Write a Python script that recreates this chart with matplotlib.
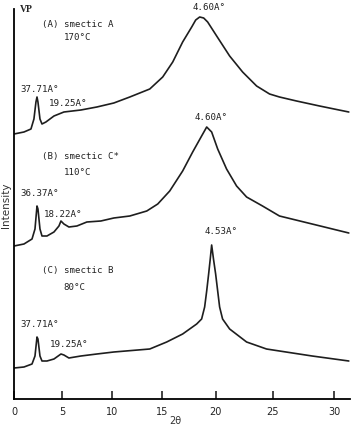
import numpy as np
import matplotlib
matplotlib.use('Agg')
import matplotlib.pyplot as plt

# 2theta (deg) and intensity (arbitrary units)
tt_a = [0.0, 1.04, 1.77, 2.08, 2.29, 2.4, 2.5, 2.71, 2.92, 3.33, 4.17, 5.2, 6.9, 8.5, 10.2,
        11.8, 13.8, 15.09, 16.02, 16.94, 17.78, 18.15, 18.52, 18.89, 19.26, 20.09, 21.23,
        22.37, 23.6, 24.74, 25.56, 26.94, 28.8, 31.2]
int_a = [265, 267, 270, 280, 297, 302, 297, 280, 275, 277, 283, 287, 289, 292, 296,
         302, 310, 322, 337, 357, 372, 379, 382, 381, 377, 363, 343,
         327, 313, 305, 302, 298, 293, 287]

tt_b = [0.0, 1.04, 1.88, 2.19, 2.4, 2.5, 2.71, 2.92, 3.44, 4.17, 4.69, 4.9, 5.2, 5.7, 6.5,
        7.5, 8.9, 10.2, 11.8, 13.5, 14.6, 15.74, 16.94, 17.87, 18.7, 19.17, 19.63, 20.18,
        20.96, 21.84, 22.72, 24.12, 25.56, 28.2, 31.2]
int_b = [153, 155, 160, 170, 193, 190, 170, 163, 163, 167, 173, 178, 175, 172, 173,
         177, 178, 181, 183, 188, 195, 208, 228, 247, 263, 272, 267, 250,
         230, 213, 202, 193, 183, 175, 166]

tt_c = [0.0, 1.04, 1.88, 2.19, 2.4, 2.5, 2.71, 2.92, 3.44, 4.17, 4.9, 5.2, 5.7, 6.9, 8.5,
        10.2, 13.8, 15.46, 16.94, 18.24, 18.7, 18.98, 19.17, 19.35, 19.5, 19.63, 19.8,
        20.0, 20.18, 20.35, 20.61, 21.23, 22.72, 24.47, 25.56, 28.2, 31.2]
int_c = [31, 32, 35, 43, 62, 60, 43, 38, 38, 40, 45, 44, 41, 43, 45,
         47, 50, 57, 65, 75, 80, 92, 108, 125, 140, 154, 140,
         125, 108, 92, 80, 70, 57, 50, 48, 43, 38]

# labels: (text, 2theta, intensity)
labels = [
    ("(A) smectic A", 2.92, 376), ("170°C", 5.2, 362),
    ("37.71A°", 0.63, 310), ("19.25A°", 3.65, 297), ("4.60A°", 17.87, 393),
    ("(B) smectic C*", 2.92, 243), ("110°C", 5.2, 227),
    ("36.37A°", 0.63, 206), ("18.22A°", 3.13, 185), ("4.60A°", 18.06, 282),
    ("(C) smectic B", 2.92, 130), ("80°C", 5.1, 113),
    ("37.71A°", 0.63, 75), ("19.25A°", 3.75, 55), ("4.53A°", 18.98, 168),
]

xticks = [0, 5, 10, 15, 20, 25, 30]

# the hand-drawn axis is not evenly spaced, so map ticks to where they sit
tick_pos = [0, 48, 98, 148, 202, 259, 321, 345]
tick_val = [0, 5, 10, 15, 20, 25, 30, 32]


def fwd(x):
    return np.interp(x, tick_val, tick_pos)


def inv(p):
    return np.interp(p, tick_pos, tick_val)


fig = plt.figure(figsize=(3.58, 4.27), dpi=100)
ax = fig.add_axes([14 / 358, 27 / 427, 336 / 358, 390 / 427])
ax.set_xscale('function', functions=(fwd, inv))

for tt, inten in [(tt_a, int_a), (tt_b, int_b), (tt_c, int_c)]:
    ax.plot(tt, inten, color='#1e1e1e', lw=1.2, solid_joinstyle='round', solid_capstyle='round')

mono = 'DejaVu Sans Mono'
for txt, x, y in labels:
    ax.text(x, y, txt, fontsize=6.6, family=mono, ha='left', va='center', color='#222222')
ax.text(0.63, 390, "VP", fontsize=7, family='Liberation Serif', weight='bold',
        ha='left', va='center', color='#222222')

ax.set_xlim(0, 31.3)
ax.set_ylim(0, 390)
ax.spines['top'].set_visible(False)
ax.spines['right'].set_visible(False)
ax.spines['left'].set_linewidth(1.3)
ax.spines['bottom'].set_linewidth(1.3)
ax.set_yticks([])
ax.set_xticks(xticks)
ax.set_xticklabels([str(t) for t in xticks])
ax.tick_params(axis='x', direction='in', length=6, width=1.2, labelsize=7, pad=5,
               colors='#222222')

fig.text(0.49, 0.013, "2θ", fontsize=7, ha='center', va='center', color='#333333')
fig.text(0.016, 0.52, "Intensity", fontsize=7.5, rotation=90, ha='center', va='center', color='#333333')

fig.savefig('out.png', dpi=100)
